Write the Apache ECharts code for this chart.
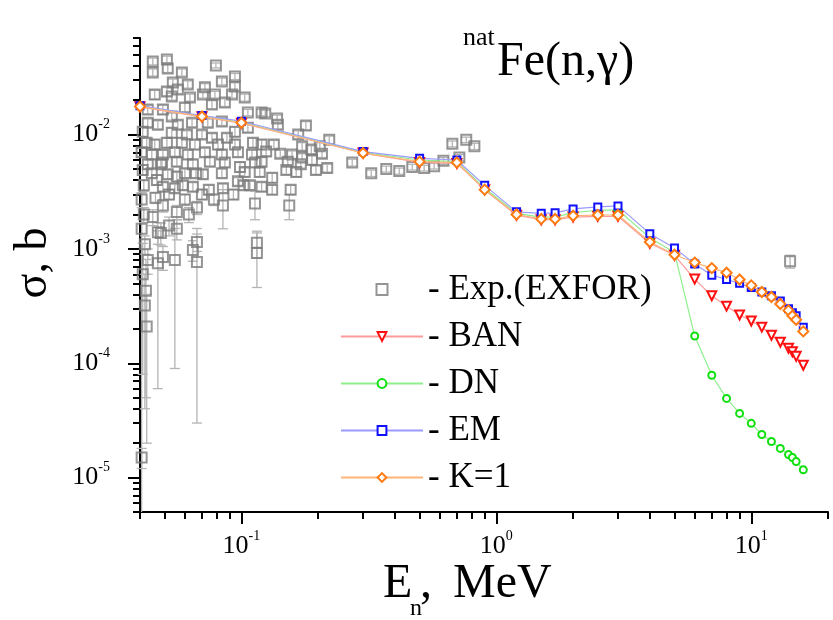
<!DOCTYPE html>
<html><head><meta charset="utf-8">
<script src="https://cdn.jsdelivr.net/npm/echarts@6/dist/echarts.min.js"></script>
<style>html,body{margin:0;padding:0;background:#fff}#c{width:833px;height:620px}</style>
</head><body><div id="c"></div>
<script>
// ---- model calculations (energy in MeV, cross section in b)
const energies = [0.04,0.07,0.1,0.3,0.5,0.7,0.9,1.2,1.5,1.7,2,2.5,3,4,5,6,7,8,9,10,11,12,13,14,14.5,15,16];
const banValues = [0.0175,0.0143,0.0126,0.0069,0.0057,0.0056,0.0033,0.00197,0.00180,0.00180,0.00190,0.00193,0.00193,0.00112,0.00088,0.000545,0.000389,0.000316,0.000264,0.000234,0.000207,0.000176,0.000153,0.000135,0.000126,0.000115,0.000096];
const dnValues = [0.0177,0.0145,0.0128,0.0070,0.0060,0.0058,0.0034,0.00205,0.00190,0.00190,0.00208,0.00218,0.00220,0.00125,0.00093,0.000173,0.0000785,0.0000493,0.0000364,0.0000298,0.0000238,0.0000207,0.0000180,0.0000159,0.0000150,0.0000138,0.0000117];
const emValues = [0.0179,0.0147,0.0131,0.0071,0.0062,0.0060,0.0036,0.00211,0.00205,0.00207,0.00224,0.00233,0.00238,0.00136,0.00102,0.00074,0.00059,0.00054,0.00050,0.00046,0.00042,0.00039,0.00035,0.00030,0.000276,0.00026,0.000207];
const k1Values = [0.0176,0.0144,0.0127,0.0069,0.0058,0.0057,0.0033,0.0020,0.00183,0.00183,0.00195,0.00198,0.00198,0.00115,0.00089,0.00076,0.00068,0.00062,0.00054,0.00048,0.00042,0.00038,0.00033,0.00029,0.00026,0.00024,0.00019];

// ---- experimental data [E (MeV), sigma (b), d sigma (b)]
const expData = [
[0.0449,0.0437,0.003],[0.0510,0.0455,0.003],[0.0449,0.0350,0.0025],[0.0514,0.0379,0.003],[0.0584,0.0350,0.0025],
[0.0794,0.0403,0.002],[0.0943,0.0323,0.002],[0.0538,0.0286,0.002],[0.0616,0.0275,0.002],[0.0719,0.0259,0.002],
[0.0510,0.0238,0.002],[0.0563,0.0248,0.002],[0.0457,0.0224,0.002],[0.0838,0.0292,0.002],[0.0943,0.0264,0.002],
[0.0787,0.0224,0.0015],[0.0706,0.0224,0.0015],[0.0533,0.0215,0.0015],[0.0628,0.0211,0.0015],[0.0918,0.0224,0.0015],
[0.103,0.0211,0.0015],[0.0861,0.0191,0.0015],[0.0766,0.0183,0.0015],[0.0600,0.0173,0.0015],[0.0492,0.0166,0.0015],
[0.0429,0.0166,0.0015],[0.106,0.0156,0.001],[0.120,0.0156,0.001],[0.0533,0.0144,0.001],[0.0429,0.0127,0.001],
[0.0470,0.0122,0.001],[0.0563,0.0122,0.001],[0.0640,0.0127,0.001],[0.0738,0.0127,0.001],[0.0838,0.0130,0.001],
[0.106,0.0115,0.001],[0.0410,0.0106,0.001],[0.0533,0.0104,0.001],[0.0943,0.0106,0.001],[0.0611,0.0100,0.0008],
[0.0700,0.0100,0.0008],[0.0766,0.0094,0.0008],[0.0877,0.0094,0.0008],[0.0425,0.0085,0.0008],[0.0457,0.0082,0.0008],
[0.0510,0.0085,0.0008],[0.0584,0.0085,0.0008],[0.0657,0.0082,0.0008],[0.0809,0.0082,0.0008],[0.0943,0.0082,0.0008],
[0.111,0.0085,0.0008],[0.120,0.0082,0.0008],[0.0445,0.0067,0.0006],[0.0492,0.0067,0.0006],[0.0548,0.0070,0.0006],
[0.0616,0.0067,0.0006],[0.0719,0.0070,0.0006],[0.0838,0.0067,0.0006],[0.0969,0.0070,0.0006],[0.110,0.0067,0.0006],
[0.0429,0.0055,0.0005],[0.0488,0.0057,0.0005],[0.0558,0.0058,0.0005],[0.0645,0.0055,0.0005],[0.0752,0.0058,0.0005],
[0.0861,0.0057,0.0005],[0.0987,0.0052,0.0005],[0.113,0.0057,0.0005],[0.0445,0.0046,0.0004],[0.0514,0.0045,0.0004],
[0.0600,0.0046,0.0004],[0.0706,0.0045,0.0004],[0.0838,0.0046,0.0004],[0.103,0.0047,0.0004],[0.118,0.0047,0.0004],
[0.124,0.0153,0.001],[0.138,0.0138,0.001],[0.139,0.0122,0.001],[0.179,0.0120,0.001],[0.167,0.0100,0.0008],
[0.221,0.0090,0.0007],[0.134,0.0082,0.0007],[0.125,0.0071,0.0006],[0.173,0.0079,0.0006],[0.188,0.0074,0.0006],
[0.203,0.0079,0.0006],[0.142,0.0068,0.0005],[0.158,0.0067,0.0005],[0.173,0.0063,0.0005],[0.207,0.0068,0.0005],
[0.120,0.0058,0.0005],[0.189,0.0060,0.0005],[0.152,0.0058,0.0005],[0.171,0.0055,0.0004],[0.196,0.0049,0.0004],
[0.217,0.0051,0.0004],[0.164,0.0047,0.0004],[0.150,0.0049,0.0004],[0.132,0.0042,0.0004],[0.120,0.0035,0.0003],
[0.156,0.0033,0.0003],[0.132,0.0033,0.0003],[0.154,0.0024,0.0006],
[0.272,0.0057,0.0004],[0.323,0.0046,0.0003],[0.370,0.0050,0.0003],[0.416,0.0048,0.0003],[0.468,0.0052,0.0003],
[0.521,0.0051,0.0003],[0.570,0.0053,0.0003],[0.620,0.0059,0.0004],[0.716,0.0063,0.0004],[0.672,0.0083,0.0005],
[0.762,0.0090,0.0005],[0.820,0.0079,0.0005],[14.2,0.00078,0.0001],
[0.0492,0.0035,0.0003],[0.0548,0.0034,0.0003],[0.0589,0.0036,0.0003],[0.0645,0.0035,0.0003],[0.0700,0.0030,0.0003],
[0.0846,0.0034,0.0003],[0.0846,0.0024,0.0009],[0.0969,0.0039,0.0003],[0.108,0.0036,0.0003],[0.113,0.0025,0.0007],
[0.0449,0.0019,0.0003],[0.0492,0.0024,0.0003],[0.0558,0.0021,0.0003],[0.0669,0.0023,0.0003],[0.0470,0.0014,0.0003],
[0.0558,0.0015,0.0003],[0.0669,0.00115,0.0002],[0.0645,0.00098,0.0002],[0.0492,0.00085,0.0002],[0.0470,0.00075,0.00069],
[0.0548,0.00080,0.00071],[0.0429,0.00080,0.0002],[0.0669,0.00077,0.00074],[0.115,0.00113,0.0003],[0.115,0.00092,0.00046],
[0.0418,0.00032,0.00028],[0.0425,0.00021,0.00019],[0.0406,0.000015,0.000003],[0.0483,0.0055,0.0005],[0.0558,0.0043,0.0004],
[0.0663,0.0046,0.0004],[0.0483,0.00138,0.0003],[0.0406,0.0070,0.0006],[0.0410,0.0049,0.0005],[0.0414,0.0036,0.0004],
[0.0406,0.0027,0.0004],[0.0414,0.0020,0.0003],[0.0406,0.0015,0.0016],[0.0418,0.0011,0.0002],[0.0410,0.00060,0.00052],
[0.0422,0.00043,0.00038],[0.0466,0.0040,0.0004],[0.0520,0.0030,0.0003],[0.0600,0.0027,0.0003],[0.0460,0.0028,0.0003],
[0.0622,0.0020,0.0003],[0.0520,0.0016,0.0003],[0.0745,0.0033,0.0003],[0.0780,0.0027,0.0003],[0.0930,0.0030,0.0003],
[0.1020,0.0036,0.0003]
];

// ---- axes
const xMin = 0.04, xMax = 20, yMin = 5e-6, yMax = 0.07;
const xMajorTicks = [0.1, 1, 10];
const xMinorTicks = [0.04,0.05,0.06,0.07,0.08,0.09,0.2,0.3,0.4,0.5,0.6,0.7,0.8,0.9,2,3,4,5,6,7,8,9,20];
const yMajorTicks = [1e-5, 1e-4, 1e-3, 1e-2];
const yMinorTicks = [5e-6,6e-6,7e-6,8e-6,9e-6,2e-5,3e-5,4e-5,5e-5,6e-5,7e-5,8e-5,9e-5,
  2e-4,3e-4,4e-4,5e-4,6e-4,7e-4,8e-4,9e-4,2e-3,3e-3,4e-3,5e-3,6e-3,7e-3,8e-3,9e-3,
  2e-2,3e-2,4e-2,5e-2,6e-2,7e-2];
const legendNames = ['Exp.(EXFOR)','BAN','DN','EM','K=1'];

const L = Math.log10;
const SERIF = '"Liberation Serif","Times New Roman",serif';
const pair = (xs, ys) => xs.map((x, i) => [x, ys[i]]);
const labelRich = {
  b: {fontSize: 26, lineHeight: 34, fontFamily: SERIF, color: '#000'},
  s: {fontSize: 14, lineHeight: 14, verticalAlign: 'top', fontFamily: SERIF, color: '#000'}
};
const fmt = v => '{b|10}{s|' + Math.round(v) + '}';
function valAxis(pos, lo, hi, ticks, len, labels, margin) {
  return {
    type: 'value', gridIndex: 0, position: pos, min: L(lo), max: L(hi),
    axisLine: {show: labels, onZero: false, lineStyle: {color: '#000', width: 2}},
    axisTick: {show: true, length: len, customValues: ticks.map(L), lineStyle: {color: '#000', width: 2}},
    axisLabel: labels ? {show: true, customValues: ticks.map(L), formatter: fmt, rich: labelRich, margin: margin} : {show: false},
    splitLine: {show: false}, minorTick: {show: false}
  };
}

const chart = echarts.init(document.getElementById('c'), null, {renderer: 'canvas'});
chart.setOption({
  animation: false,
  backgroundColor: '#fff',
  grid: {left: 140, right: 5, top: 38, bottom: 108, containLabel: false, outerBoundsMode: 'none'},
  xAxis: [
    {type: 'log', gridIndex: 0, min: xMin, max: xMax, show: false},
    valAxis('bottom', xMin, xMax, xMajorTicks, 12, true, 17),
    valAxis('bottom', xMin, xMax, xMinorTicks, 7, false, 0)
  ],
  yAxis: [
    {type: 'log', gridIndex: 0, min: yMin, max: yMax, show: false},
    valAxis('left', yMin, yMax, yMajorTicks, 12, true, 30),
    valAxis('left', yMin, yMax, yMinorTicks, 7, false, 0)
  ],
  legend: {
    orient: 'vertical', left: 335, top: 267, itemWidth: 82, itemHeight: 11, itemGap: 12,
    selectedMode: false, symbolKeepAspect: true, formatter: '- {name}',
    data: legendNames.map((n, i) => i === 0 ? {name: n, icon: 'path://M0,0H10V10H0Z'} : {name: n}),
    textStyle: {fontFamily: SERIF, fontSize: 35, lineHeight: 35, color: '#000'}
  },
  graphic: [
    {type: 'text', x: 463, y: 38, style: {text: 'nat', fontSize: 26, fontFamily: SERIF, fill: '#000', verticalAlign: 'middle'}},
    {type: 'text', x: 497, y: 62, style: {text: 'Fe(n,γ)', fontSize: 48, fontFamily: SERIF, fill: '#000', verticalAlign: 'middle'}},
    {type: 'text', x: 34, y: 263, rotation: Math.PI / 2, style: {text: 'σ, b', fontSize: 46, fontFamily: SERIF, fill: '#000', align: 'center', verticalAlign: 'middle'}},
    {type: 'text', x: 383, y: 584, style: {text: 'E', fontSize: 48, fontFamily: SERIF, fill: '#000', verticalAlign: 'middle'}},
    {type: 'text', x: 410, y: 609, style: {text: 'n', fontSize: 24, fontFamily: SERIF, fill: '#000', verticalAlign: 'middle'}},
    {type: 'text', x: 420, y: 584, style: {text: ',', fontSize: 48, fontFamily: SERIF, fill: '#000', verticalAlign: 'middle'}},
    {type: 'text', x: 453, y: 584, style: {text: 'MeV', fontSize: 48, fontFamily: SERIF, fill: '#000', verticalAlign: 'middle'}}
  ],
  series: [
    {
      type: 'custom', xAxisIndex: 0, yAxisIndex: 0, silent: true, z: 1,
      data: expData,
      renderItem: function (params, api) {
        const e = api.value(0), s = api.value(1), d = api.value(2);
        const lo = s - d > yMin ? s - d : yMin;
        const hi = Math.min(s + d, yMax);
        const p1 = api.coord([e, hi]), p2 = api.coord([e, lo]);
        const st = {stroke: '#b4b4b4', lineWidth: 1.3};
        const kids = [
          {type: 'line', shape: {x1: p1[0], y1: p1[1], x2: p2[0], y2: p2[1]}, style: st},
          {type: 'line', shape: {x1: p1[0] - 5, y1: p1[1], x2: p1[0] + 5, y2: p1[1]}, style: st}
        ];
        if (s - d > yMin) kids.push({type: 'line', shape: {x1: p2[0] - 5, y1: p2[1], x2: p2[0] + 5, y2: p2[1]}, style: st});
        return {type: 'group', children: kids};
      }
    },
    {
      name: 'Exp.(EXFOR)', type: 'scatter', xAxisIndex: 0, yAxisIndex: 0, z: 3,
      data: expData.map(d => [d[0], d[1]]),
      symbol: 'rect', symbolSize: 10,
      itemStyle: {color: 'rgba(255,255,255,0)', borderColor: '#7a7a7a', borderWidth: 2}
    },
    {
      name: 'BAN', type: 'line', xAxisIndex: 0, yAxisIndex: 0, z: 4, data: pair(energies, banValues),
      symbol: 'emptyTriangle', symbolRotate: 180, symbolSize: 9,
      lineStyle: {color: '#ff9a9a', width: 1.2}, itemStyle: {color: '#ff1010', borderWidth: 1.5}
    },
    {
      name: 'DN', type: 'line', xAxisIndex: 0, yAxisIndex: 0, z: 4, data: pair(energies, dnValues),
      symbol: 'emptyCircle', symbolSize: 7,
      lineStyle: {color: '#8fef8f', width: 1.2}, itemStyle: {color: '#10e010', borderWidth: 1.5}
    },
    {
      name: 'EM', type: 'line', xAxisIndex: 0, yAxisIndex: 0, z: 4, data: pair(energies, emValues),
      symbol: 'emptyRect', symbolSize: 7,
      lineStyle: {color: '#9a9aff', width: 1.2}, itemStyle: {color: '#1010ff', borderWidth: 1.5}
    },
    {
      name: 'K=1', type: 'line', xAxisIndex: 0, yAxisIndex: 0, z: 5, data: pair(energies, k1Values),
      symbol: 'emptyDiamond', symbolSize: 10,
      lineStyle: {color: '#ffb47a', width: 1.2}, itemStyle: {color: '#ff7a10', borderWidth: 1.5}
    }
  ]
});
</script>
</body></html>
